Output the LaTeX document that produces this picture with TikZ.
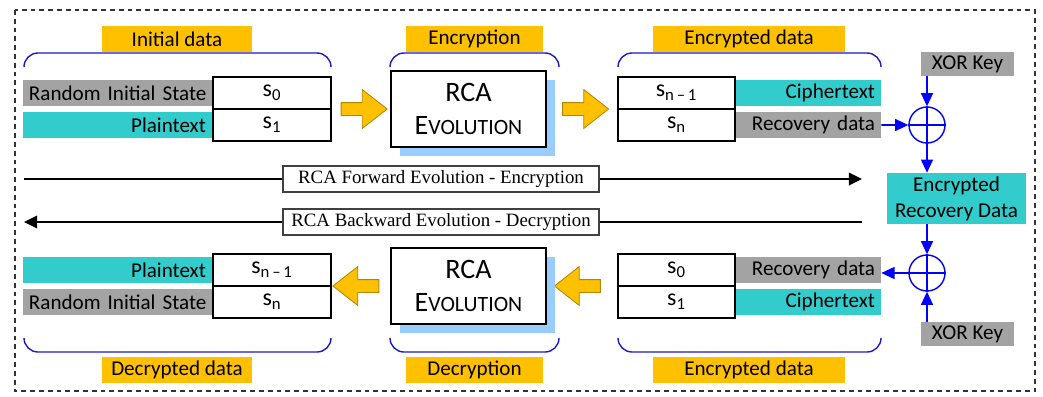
\documentclass[tikz,border=0pt]{standalone}
\usepackage{fontspec}
\setmainfont{Carlito}
\newfontfamily\evofont{Liberation Serif}
\usepackage{tikz}
\usetikzlibrary{shapes,arrows,arrows.meta,shadows}
\definecolor{tagyellow}{HTML}{FFC000}
\definecolor{keygray}{HTML}{A3A3A3}
\definecolor{datacyan}{HTML}{33CCCC}
\definecolor{shadeblue}{HTML}{99CCFF}
\definecolor{xorblue}{HTML}{0000FF}
\definecolor{bracecol}{HTML}{1A1ACC}
\tikzstyle{tag} = [fill=tagyellow, minimum height=0.65cm, inner sep=0pt, font=\fontsize{15}{18}\selectfont]
\tikzstyle{side} = [minimum height=0.65cm, text width=4.425cm, align=right, inner xsep=0.15cm, inner ysep=0pt, font=\fontsize{15}{18}\selectfont]
\tikzstyle{sider} = [side, text width=3.325cm]
\tikzstyle{cell} = [draw, line width=1pt, minimum width=2.95cm, minimum height=0.8cm, inner sep=0pt, font=\fontsize{17}{18}\selectfont, node distance=0.8cm]
\tikzstyle{cellr} = [cell, minimum width=2.925cm]
\tikzstyle{rca} = [draw, line width=1pt, fill=white, minimum width=3.875cm, minimum height=1.9cm, align=center, font=\fontsize{20}{24}\selectfont, drop shadow={shadow xshift=0.225cm, shadow yshift=-0.225cm, fill=shadeblue, opacity=1}]
\tikzstyle{bigarrow} = [single arrow, draw=tagyellow!70!black, fill=tagyellow, line width=0.6pt, minimum height=1.15cm, single arrow head extend=0.325cm, single arrow tip angle=76, inner xsep=0pt, inner ysep=0.15cm]
\tikzstyle{keybox} = [fill=keygray, minimum width=2.325cm, minimum height=0.6cm, inner sep=0pt, font=\fontsize{15}{18}\selectfont]
\tikzstyle{xor} = [circle, draw=xorblue, line width=1pt, minimum size=0.9cm, inner sep=0pt]
\tikzstyle{evo} = [draw=black!75, fill=white, line width=0.8pt, minimum width=7.9cm, minimum height=0.65cm, inner sep=0pt, font=\evofont\fontsize{13.4}{16}\selectfont]
\tikzstyle{brace} = [draw=bracecol, line width=1pt, rounded corners=0.35cm]
\tikzstyle{line} = [draw, line width=1pt, -{Triangle[length=0.33cm, width=0.32cm]}]
\tikzstyle{bline} = [draw=xorblue, line width=1.1pt, -{Triangle[length=0.33cm, width=0.3cm]}]

\begin{document}
\begin{tikzpicture}[x=0.025cm, y=-0.025cm]
	\useasboundingbox (0,0) rectangle (1043,396);
	\draw[black!80, line width=1.2pt, dash pattern=on 0.12cm off 0.1cm] (15,10) rectangle (1035,391);
	% encryption row
	\node [tag, minimum width=3.75cm] (initTag) at (177,39) {Initial data};
	\node [tag, minimum width=3.425cm] (encTag) at (474.5,39) {Encryption};
	\node [tag, minimum width=4.8cm] (cipTag) at (749,39) {Encrypted data};
	\draw [brace] (24,67) |- (177,53) -| (331,67);
	\draw [brace] (390,67) |- (474,53) -| (559,67);
	\draw [brace] (618,67) |- (750,53) -| (881,67);
	\node [cell] (sA0) at (272,93) {s\textsubscript{0}};
	\node [cell, below of=sA0] (sA1) {s\textsubscript{1}};
	\node [side, fill=keygray, anchor=east] (risA) at (sA0.west) {\mbox{Random Initial State}};
	\node [side, fill=datacyan, anchor=east] (ptA) at (sA1.west) {Plaintext};
	\node [bigarrow] (arrE1) at (360,109) {};
	\node [rca] (rcaE) at (468.5,109) {RCA\\E{\fontsize{15.5}{24}\selectfont VOLUTION}};
	\node [bigarrow] (arrE2) at (581.5,109) {};
	\node [cellr] (sAn1) at (676.5,93) {s\textsubscript{n\,–\,1}};
	\node [cellr, below of=sAn1] (sAn) {s\textsubscript{n}};
	\node [sider, fill=datacyan, anchor=west] (ctA) at (sAn1.east) {Ciphertext};
	\node [sider, fill=keygray, anchor=west] (recA) at (sAn.east) {Recovery data};
	% xor part
	\node [keybox] (keyA) at (967.5,64) {XOR Key};
	\node [xor] (xorA) at (927,125) {};
	\node [fill=datacyan, minimum width=3.475cm, minimum height=1.275cm, inner sep=0pt, align=center, font=\fontsize{15}{18.5}\selectfont] (erd) at (956.5,198.5) {Encrypted\\Recovery Data};
	\node [xor] (xorB) at (927,273) {};
	\node [keybox] (keyB) at (967.5,334) {XOR Key};
	\draw [xorblue, line width=1pt] (xorA.north) -- (xorA.south) (xorA.west) -- (xorA.east);
	\draw [xorblue, line width=1pt] (xorB.north) -- (xorB.south) (xorB.west) -- (xorB.east);
	\path [bline] (keyA.south -| xorA) -- (xorA.north);
	\path [bline] (recA.east) -- (xorA.west);
	\path [bline] (xorA.south) -- (erd.north -| xorA);
	\path [bline] (erd.south -| xorB) -- (xorB.north);
	\path [bline] (keyB.north -| xorB) -- (xorB.south);
	% evolution lines
	\node [evo] (fwd) at (441,179) {RCA Forward Evolution - Encryption};
	\node [evo] (bwd) at (441,222) {RCA Backward Evolution - Decryption};
	\coordinate (fwdL) at (24,179);
	\coordinate (fwdR) at (862,179);
	\coordinate (bwdR) at (862,222);
	\coordinate (bwdL) at (24,222);
	\draw [line width=1pt] (fwdL) -- (fwd);
	\path [line] (fwd) -- (fwdR);
	\draw [line width=1pt] (bwdR) -- (bwd);
	\path [line] (bwd) -- (bwdL);
	% decryption row
	\node [cellr] (sB0) at (676.5,270) {s\textsubscript{0}};
	\node [cellr, below of=sB0] (sB1) {s\textsubscript{1}};
	\node [sider, fill=keygray, anchor=west] (recB) at (sB0.east) {Recovery data};
	\node [sider, fill=datacyan, anchor=west] (ctB) at (sB1.east) {Ciphertext};
	\path [bline] (xorB.west) -- (xorB.west -| recB.east);
	\node [bigarrow, shape border rotate=180] (arrD1) at (581.5,286) {};
	\node [rca] (rcaD) at (468.5,286) {RCA\\E{\fontsize{15.5}{24}\selectfont VOLUTION}};
	\node [bigarrow, shape border rotate=180] (arrD2) at (360,286) {};
	\node [cell] (sBn1) at (272,270) {s\textsubscript{n\,–\,1}};
	\node [cell, below of=sBn1] (sBn) {s\textsubscript{n}};
	\node [side, fill=datacyan, anchor=east] (ptB) at (sBn1.west) {Plaintext};
	\node [side, fill=keygray, anchor=east] (risB) at (sBn.west) {\mbox{Random Initial State}};
	\draw [brace] (24,338) |- (177,352) -| (331,338);
	\draw [brace] (390,338) |- (474,352) -| (559,338);
	\draw [brace] (618,338) |- (750,352) -| (881,338);
	\node [tag, minimum width=3.75cm] (decTag) at (177,369.5) {Decrypted data};
	\node [tag, minimum width=3.425cm] (dcrTag) at (474.5,369.5) {Decryption};
	\node [tag, minimum width=4.8cm] (cipTagB) at (749,369.5) {Encrypted data};
\end{tikzpicture}
\end{document}
